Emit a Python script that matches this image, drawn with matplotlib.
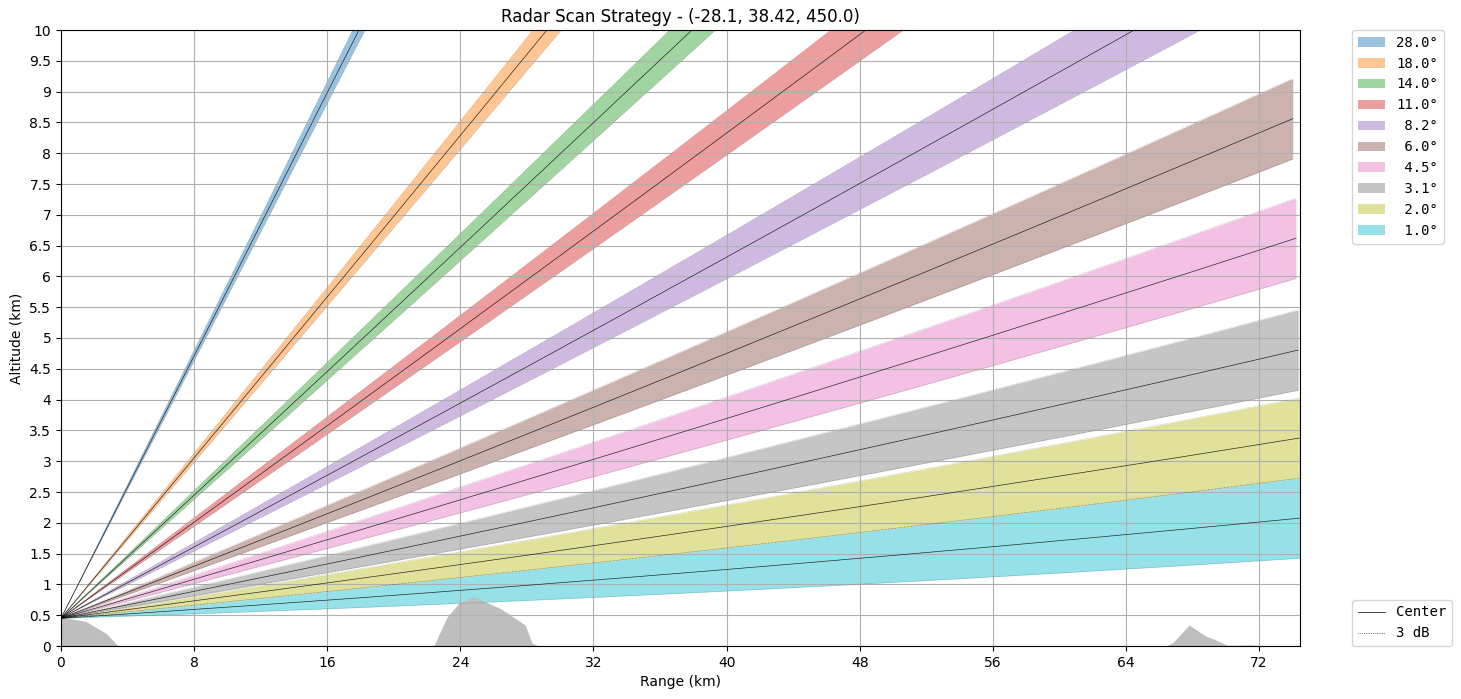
import numpy as np
import matplotlib
matplotlib.use("Agg")
import matplotlib.pyplot as plt
from matplotlib.lines import Line2D

elevations = [28.0, 18.0, 14.0, 11.0, 8.2, 6.0, 4.5, 3.1, 2.0, 1.0]
colors = ['tab:blue', 'tab:orange', 'tab:green', 'tab:red', 'tab:purple',
          'tab:brown', 'tab:pink', 'tab:gray', 'tab:olive', 'tab:cyan']
radar_alt_km = 0.45
beamwidth_deg = 1.0
max_slant_km = 74.5
terrain_x = [0, 1.49, 2.74, 3.43, 22.4, 23.2, 23.9, 24.8, 26.4, 27.9, 28.3, 28.7,
             66.4, 66.8, 67.8, 68.8, 69.3, 70.1, 71.6, 72.0, 74.5]
terrain_y = [0.47, 0.40, 0.20, 0.0, 0.0, 0.47, 0.69, 0.80, 0.61, 0.34, 0.05, 0.0,
             0.0, 0.05, 0.34, 0.16, 0.11, 0.01, 0.02, 0.0, 0.0]

Re = 6371.0 * 4 / 3

def beam(el_deg, r):
    e = np.radians(el_deg)
    h = np.sqrt(r**2 + Re**2 + 2 * r * Re * np.sin(e)) - Re + radar_alt_km
    s = Re * np.arcsin(r * np.cos(e) / (Re + h - radar_alt_km))
    return s, h

fig, ax = plt.subplots(figsize=(14.61, 6.99), dpi=100)
fig.subplots_adjust(left=61/1461, right=1300/1461, top=1-30/699, bottom=1-646/699)
r = np.linspace(0, max_slant_km, 400)
for el, c in zip(elevations, colors):
    s, h = beam(el, r)
    sl, hl = beam(el - beamwidth_deg / 2, r)
    su, hu = beam(el + beamwidth_deg / 2, r)
    hl_i = np.interp(s, sl, hl)
    hu_i = np.interp(s, su, hu)
    ax.fill_between(s, hl_i, hu_i, color=c, alpha=0.45, lw=0, label=f"{el:4.1f}°")
    ax.plot(s, h, color='k', lw=0.5, alpha=0.8)
    ax.plot(s, hl_i, color='k', lw=0.4, ls=':', alpha=0.4)
    ax.plot(s, hu_i, color='k', lw=0.4, ls=':', alpha=0.4)

ax.fill_between(terrain_x, 0, terrain_y, color='#bebebe', lw=0)
ax.set_xlim(0, 74.46)
ax.set_ylim(0, 10)
ax.set_xticks(np.arange(0, 73, 8))
ax.set_yticks(np.arange(0, 10.01, 0.5))
ax.set_yticklabels([f"{v:g}" for v in np.arange(0, 10.01, 0.5)])
ax.grid(True)
ax.set_xlabel("Range (km)")
ax.set_ylabel("Altitude (km)")
ax.set_title("Radar Scan Strategy - (-28.1, 38.42, 450.0)")
leg1 = ax.legend(loc='upper left', bbox_to_anchor=(1.042, 1.0), borderaxespad=0,
                 prop={'family': 'DejaVu Sans Mono'})
ax.add_artist(leg1)
handles = [Line2D([], [], color='k', lw=0.5), Line2D([], [], color='k', lw=0.5, ls=':')]
ax.legend(handles, ['Center', '3 dB'], loc='lower left', bbox_to_anchor=(1.042, 0.0),
          borderaxespad=0, prop={'family': 'DejaVu Sans Mono'})
fig.savefig("out.png", dpi=100)
